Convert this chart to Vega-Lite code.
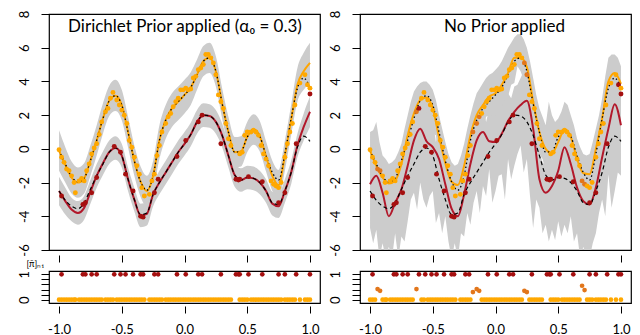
{
"$schema": "https://vega.github.io/schema/vega-lite/v6.json",
"background": "white",
"padding": {"left": 17, "top": 9, "right": 4, "bottom": 0},
"autosize": {"type": "pad"},
"bounds": "flush",
"columns": 2,
"spacing": {"row": 21, "column": 40},
"config": {
  "font": "Lato",
  "view": {"stroke": "#000", "strokeWidth": 1.2},
  "axis": {"labelFont": "Lato", "labelFontSize": 13, "labelColor": "#000", "tickColor": "#000", "tickWidth": 1, "grid": false, "domain": false, "labelOverlap": false}
},
"datasets": {
  "L": [
    {"x":-1.00,"f1":-0.1,"f2":-2.5,"e1":-0.1,"e2":-2.5,"h1":1.1,"l1":-1.3,"h2":-1.65,"l2":-3.35},
    {"x":-0.95,"f1":-0.9,"f2":-3.05,"e1":-0.95,"e2":-3.1,"h1":0.1,"l1":-2.0,"h2":-2.3,"l2":-3.9},
    {"x":-0.90,"f1":-1.65,"f2":-3.4,"e1":-1.7,"e2":-3.6,"h1":-0.75,"l1":-2.65,"h2":-2.9,"l2":-4.3},
    {"x":-0.85,"f1":-1.95,"f2":-3.55,"e1":-2.0,"e2":-3.8,"h1":-1.1,"l1":-2.9,"h2":-3.1,"l2":-4.5},
    {"x":-0.80,"f1":-1.75,"f2":-3.2,"e1":-1.75,"e2":-3.5,"h1":-0.85,"l1":-2.65,"h2":-2.8,"l2":-4.2},
    {"x":-0.75,"f1":-0.7,"f2":-2.4,"e1":-0.7,"e2":-2.55,"h1":0.2,"l1":-1.6,"h2":-1.85,"l2":-3.25},
    {"x":-0.70,"f1":0.5,"f2":-1.6,"e1":0.5,"e2":-1.6,"h1":1.4,"l1":-0.4,"h2":-0.9,"l2":-2.3},
    {"x":-0.65,"f1":1.8,"f2":-0.9,"e1":1.8,"e2":-0.85,"h1":2.7,"l1":0.9,"h2":-0.15,"l2":-1.55},
    {"x":-0.60,"f1":2.85,"f2":-0.2,"e1":2.85,"e2":-0.2,"h1":3.75,"l1":1.95,"h2":0.5,"l2":-0.9},
    {"x":-0.55,"f1":3.15,"f2":0.05,"e1":3.15,"e2":0.05,"h1":4.1,"l1":2.25,"h2":0.75,"l2":-0.65},
    {"x":-0.50,"f1":2.6,"f2":-0.4,"e1":2.6,"e2":-0.4,"h1":3.5,"l1":1.7,"h2":0.3,"l2":-1.1},
    {"x":-0.45,"f1":1.0,"f2":-1.8,"e1":1.0,"e2":-1.8,"h1":1.9,"l1":0.1,"h2":-1.1,"l2":-2.5},
    {"x":-0.40,"f1":-0.7,"f2":-3.0,"e1":-0.7,"e2":-3.0,"h1":0.2,"l1":-1.6,"h2":-2.3,"l2":-3.7},
    {"x":-0.35,"f1":-1.95,"f2":-3.9,"e1":-1.95,"e2":-3.95,"h1":-1.05,"l1":-2.85,"h2":-3.25,"l2":-4.65},
    {"x":-0.30,"f1":-2.45,"f2":-3.8,"e1":-2.5,"e2":-3.85,"h1":-1.6,"l1":-3.4,"h2":-3.15,"l2":-4.55},
    {"x":-0.25,"f1":-1.6,"f2":-2.7,"e1":-1.6,"e2":-2.7,"h1":-0.7,"l1":-2.5,"h2":-2.0,"l2":-3.4},
    {"x":-0.20,"f1":0.5,"f2":-2.0,"e1":0.5,"e2":-2.0,"h1":1.4,"l1":-0.6,"h2":-1.3,"l2":-2.7},
    {"x":-0.15,"f1":1.7,"f2":-1.4,"e1":1.7,"e2":-1.4,"h1":2.6,"l1":0.6,"h2":-0.7,"l2":-2.1},
    {"x":-0.10,"f1":2.4,"f2":-0.8,"e1":2.4,"e2":-0.8,"h1":3.3,"l1":1.3,"h2":-0.1,"l2":-1.5},
    {"x":-0.05,"f1":2.8,"f2":-0.2,"e1":2.8,"e2":-0.2,"h1":3.7,"l1":1.7,"h2":0.5,"l2":-0.9},
    {"x":0.00,"f1":3.2,"f2":0.3,"e1":3.2,"e2":0.3,"h1":4.1,"l1":2.1,"h2":1.0,"l2":-0.4},
    {"x":0.05,"f1":3.65,"f2":0.85,"e1":3.65,"e2":0.85,"h1":4.55,"l1":2.6,"h2":1.55,"l2":0.15},
    {"x":0.10,"f1":4.4,"f2":1.6,"e1":4.4,"e2":1.6,"h1":5.3,"l1":3.5,"h2":2.3,"l2":0.9},
    {"x":0.15,"f1":5.2,"f2":2.0,"e1":5.2,"e2":2.0,"h1":6.1,"l1":4.3,"h2":2.7,"l2":1.3},
    {"x":0.20,"f1":5.4,"f2":1.95,"e1":5.4,"e2":1.95,"h1":6.3,"l1":4.5,"h2":2.65,"l2":1.25},
    {"x":0.25,"f1":4.6,"f2":1.6,"e1":4.6,"e2":1.6,"h1":5.5,"l1":3.7,"h2":2.3,"l2":0.9},
    {"x":0.30,"f1":2.7,"f2":0.8,"e1":2.7,"e2":0.8,"h1":3.6,"l1":1.8,"h2":1.5,"l2":0.1},
    {"x":0.35,"f1":1.0,"f2":-0.4,"e1":1.0,"e2":-0.4,"h1":1.9,"l1":0.1,"h2":0.3,"l2":-1.1},
    {"x":0.40,"f1":-0.2,"f2":-1.55,"e1":-0.2,"e2":-1.55,"h1":0.7,"l1":-1.1,"h2":-0.85,"l2":-2.25},
    {"x":0.45,"f1":-0.15,"f2":-1.85,"e1":-0.15,"e2":-1.85,"h1":0.75,"l1":-1.05,"h2":-1.15,"l2":-2.55},
    {"x":0.50,"f1":0.7,"f2":-1.7,"e1":0.7,"e2":-1.7,"h1":1.6,"l1":-0.2,"h2":-1.0,"l2":-2.4},
    {"x":0.55,"f1":1.15,"f2":-1.75,"e1":1.15,"e2":-1.75,"h1":2.05,"l1":0.25,"h2":-1.05,"l2":-2.45},
    {"x":0.60,"f1":0.75,"f2":-2.0,"e1":0.75,"e2":-2.0,"h1":1.65,"l1":-0.15,"h2":-1.3,"l2":-2.7},
    {"x":0.65,"f1":-0.4,"f2":-2.5,"e1":-0.45,"e2":-2.5,"h1":0.45,"l1":-1.35,"h2":-1.8,"l2":-3.2},
    {"x":0.70,"f1":-1.4,"f2":-3.2,"e1":-1.6,"e2":-3.25,"h1":-0.7,"l1":-2.5,"h2":-2.55,"l2":-3.95},
    {"x":0.75,"f1":-1.85,"f2":-3.3,"e1":-2.15,"e2":-3.4,"h1":-1.25,"l1":-3.05,"h2":-2.7,"l2":-4.1},
    {"x":0.80,"f1":-0.3,"f2":-2.5,"e1":-0.4,"e2":-2.5,"h1":0.5,"l1":-1.3,"h2":-1.8,"l2":-3.2},
    {"x":0.85,"f1":1.8,"f2":-1.4,"e1":1.7,"e2":-1.4,"h1":2.6,"l1":0.8,"h2":-0.7,"l2":-2.1},
    {"x":0.90,"f1":3.6,"f2":0.1,"e1":3.8,"e2":0.2,"h1":4.8,"l1":2.8,"h2":0.9,"l2":-0.5},
    {"x":0.95,"f1":4.2,"f2":0.75,"e1":4.6,"e2":1.3,"h1":5.7,"l1":3.5,"h2":2.1,"l2":0.5},
    {"x":1.00,"f1":3.6,"f2":0.45,"e1":5.1,"e2":2.2,"h1":6.3,"l1":3.9,"h2":3.1,"l2":1.3}
  ],
  "R": [
    {"x":-1.00,"f1":-0.1,"f2":-2.5,"e1":-0.1,"e2":-2.1},
    {"x":-0.95,"f1":-0.9,"f2":-3.05,"e1":-1.0,"e2":-1.6},
    {"x":-0.90,"f1":-1.65,"f2":-3.4,"e1":-1.7,"e2":-2.6},
    {"x":-0.85,"f1":-1.95,"f2":-3.55,"e1":-2.05,"e2":-4.0},
    {"x":-0.80,"f1":-1.75,"f2":-3.2,"e1":-1.9,"e2":-3.2},
    {"x":-0.75,"f1":-0.7,"f2":-2.4,"e1":-0.9,"e2":-2.4},
    {"x":-0.70,"f1":0.5,"f2":-1.6,"e1":0.8,"e2":-1.0},
    {"x":-0.65,"f1":1.8,"f2":-0.9,"e1":2.1,"e2":0.5},
    {"x":-0.60,"f1":2.85,"f2":-0.2,"e1":2.9,"e2":1.2},
    {"x":-0.55,"f1":3.15,"f2":0.05,"e1":3.05,"e2":0.45},
    {"x":-0.50,"f1":2.6,"f2":-0.4,"e1":2.4,"e2":0.1},
    {"x":-0.45,"f1":1.0,"f2":-1.8,"e1":0.7,"e2":-0.6},
    {"x":-0.40,"f1":-0.7,"f2":-3.0,"e1":-0.85,"e2":-2.1},
    {"x":-0.35,"f1":-1.95,"f2":-3.9,"e1":-1.95,"e2":-3.55},
    {"x":-0.30,"f1":-2.45,"f2":-3.8,"e1":-2.15,"e2":-4.0},
    {"x":-0.25,"f1":-1.6,"f2":-2.7,"e1":-1.0,"e2":-2.7},
    {"x":-0.20,"f1":0.5,"f2":-2.0,"e1":0.8,"e2":-0.9},
    {"x":-0.15,"f1":1.7,"f2":-1.4,"e1":2.0,"e2":0.5},
    {"x":-0.10,"f1":2.4,"f2":-0.8,"e1":2.6,"e2":1.0},
    {"x":-0.05,"f1":2.8,"f2":-0.2,"e1":3.1,"e2":0.45},
    {"x":0.00,"f1":3.2,"f2":0.3,"e1":3.3,"e2":0.4},
    {"x":0.05,"f1":3.65,"f2":0.85,"e1":3.8,"e2":0.9},
    {"x":0.10,"f1":4.4,"f2":1.6,"e1":4.5,"e2":1.65},
    {"x":0.15,"f1":5.2,"f2":2.0,"e1":5.4,"e2":2.2},
    {"x":0.20,"f1":5.4,"f2":1.95,"e1":5.4,"e2":2.6},
    {"x":0.25,"f1":4.6,"f2":1.6,"e1":4.85,"e2":2.85},
    {"x":0.30,"f1":2.7,"f2":0.8,"e1":2.8,"e2":1.2},
    {"x":0.35,"f1":1.0,"f2":-0.4,"e1":1.0,"e2":-1.8},
    {"x":0.40,"f1":-0.2,"f2":-1.55,"e1":0.0,"e2":-2.6},
    {"x":0.45,"f1":-0.15,"f2":-1.85,"e1":-0.25,"e2":-2.2},
    {"x":0.50,"f1":0.7,"f2":-1.7,"e1":0.4,"e2":-1.3},
    {"x":0.55,"f1":1.15,"f2":-1.75,"e1":1.15,"e2":0.1},
    {"x":0.60,"f1":0.75,"f2":-2.0,"e1":0.7,"e2":-0.9},
    {"x":0.65,"f1":-0.4,"f2":-2.5,"e1":-0.6,"e2":-2.3},
    {"x":0.70,"f1":-1.4,"f2":-3.2,"e1":-1.45,"e2":-3.1},
    {"x":0.75,"f1":-1.85,"f2":-3.3,"e1":-1.5,"e2":-3.3},
    {"x":0.80,"f1":-0.3,"f2":-2.5,"e1":0.0,"e2":-2.3},
    {"x":0.85,"f1":1.8,"f2":-1.4,"e1":1.8,"e2":-0.5},
    {"x":0.90,"f1":3.6,"f2":0.1,"e1":4.0,"e2":1.2},
    {"x":0.95,"f1":4.2,"f2":0.75,"e1":4.5,"e2":2.65},
    {"x":1.00,"f1":3.6,"f2":0.45,"e1":3.85,"e2":1.4}
  ],
  "RB": [
    {"x":-1.000,"h1":1.0,"l1":-1.6,"h2":-0.6,"l2":-4.7},
    {"x":-0.975,"h1":1.1,"l1":-2.0,"h2":-0.4,"l2":-5.6},
    {"x":-0.950,"h1":1.6,"l1":-2.4,"h2":0.2,"l2":-4.8},
    {"x":-0.925,"h1":0.4,"l1":-2.6,"h2":-0.6,"l2":-6.5},
    {"x":-0.900,"h1":-0.4,"l1":-3.0,"h2":-1.2,"l2":-5.6},
    {"x":-0.875,"h1":-0.6,"l1":-3.2,"h2":-1.8,"l2":-6.5},
    {"x":-0.850,"h1":-0.9,"l1":-3.3,"h2":-2.2,"l2":-5.8},
    {"x":-0.825,"h1":-0.8,"l1":-3.2,"h2":-2.0,"l2":-6.5},
    {"x":-0.800,"h1":-0.6,"l1":-3.0,"h2":-1.5,"l2":-5.0},
    {"x":-0.775,"h1":-0.2,"l1":-2.6,"h2":-1.2,"l2":-6.5},
    {"x":-0.750,"h1":0.3,"l1":-2.2,"h2":-0.6,"l2":-5.2},
    {"x":-0.725,"h1":1.2,"l1":-1.4,"h2":0.0,"l2":-5.5},
    {"x":-0.700,"h1":2.0,"l1":-0.6,"h2":0.7,"l2":-4.3},
    {"x":-0.675,"h1":2.8,"l1":0.0,"h2":1.4,"l2":-3.0},
    {"x":-0.650,"h1":3.4,"l1":0.6,"h2":2.2,"l2":-2.6},
    {"x":-0.625,"h1":3.7,"l1":1.4,"h2":2.6,"l2":-3.6},
    {"x":-0.600,"h1":3.9,"l1":1.5,"h2":2.9,"l2":-2.0},
    {"x":-0.575,"h1":4.0,"l1":2.2,"h2":2.3,"l2":-3.0},
    {"x":-0.550,"h1":4.0,"l1":1.9,"h2":2.2,"l2":-3.5},
    {"x":-0.525,"h1":3.8,"l1":1.2,"h2":1.9,"l2":-2.8},
    {"x":-0.500,"h1":3.5,"l1":0.9,"h2":1.7,"l2":-2.5},
    {"x":-0.475,"h1":2.9,"l1":0.8,"h2":0.4,"l2":-4.4},
    {"x":-0.450,"h1":2.0,"l1":-0.8,"h2":1.0,"l2":-3.8},
    {"x":-0.425,"h1":1.2,"l1":-1.2,"h2":-0.4,"l2":-5.0},
    {"x":-0.400,"h1":0.4,"l1":-2.0,"h2":-0.8,"l2":-4.0},
    {"x":-0.375,"h1":-0.3,"l1":-2.4,"h2":-1.6,"l2":-5.5},
    {"x":-0.350,"h1":-0.8,"l1":-3.2,"h2":-2.0,"l2":-6.5},
    {"x":-0.325,"h1":-1.0,"l1":-3.4,"h2":-2.4,"l2":-5.6},
    {"x":-0.300,"h1":-0.9,"l1":-3.5,"h2":-2.6,"l2":-6.5},
    {"x":-0.275,"h1":-0.4,"l1":-2.8,"h2":-1.8,"l2":-5.0},
    {"x":-0.250,"h1":0.3,"l1":-2.4,"h2":-1.1,"l2":-5.2},
    {"x":-0.225,"h1":1.2,"l1":-1.4,"h2":-0.6,"l2":-3.8},
    {"x":-0.200,"h1":2.0,"l1":-0.4,"h2":0.8,"l2":-4.5},
    {"x":-0.175,"h1":2.7,"l1":0.2,"h2":1.2,"l2":-3.2},
    {"x":-0.150,"h1":3.3,"l1":0.7,"h2":2.0,"l2":-2.5},
    {"x":-0.125,"h1":3.6,"l1":0.9,"h2":2.3,"l2":-3.8},
    {"x":-0.100,"h1":3.9,"l1":1.2,"h2":2.6,"l2":-2.2},
    {"x":-0.075,"h1":4.2,"l1":1.9,"h2":1.6,"l2":-2.8},
    {"x":-0.050,"h1":4.4,"l1":2.0,"h2":2.4,"l2":-1.2},
    {"x":-0.025,"h1":4.5,"l1":1.7,"h2":1.9,"l2":-3.2},
    {"x":0.000,"h1":4.7,"l1":1.8,"h2":2.0,"l2":-2.5},
    {"x":0.025,"h1":4.9,"l1":2.0,"h2":2.5,"l2":-1.6},
    {"x":0.050,"h1":5.2,"l1":2.4,"h2":2.5,"l2":-1.5},
    {"x":0.075,"h1":5.6,"l1":2.6,"h2":2.9,"l2":-3.0},
    {"x":0.100,"h1":6.0,"l1":3.1,"h2":3.3,"l2":-0.6},
    {"x":0.125,"h1":6.3,"l1":3.8,"h2":3.0,"l2":-1.8},
    {"x":0.150,"h1":6.6,"l1":3.9,"h2":3.7,"l2":-1.0},
    {"x":0.175,"h1":6.8,"l1":4.9,"h2":3.8,"l2":-0.3},
    {"x":0.200,"h1":6.8,"l1":4.6,"h2":4.2,"l2":0.2},
    {"x":0.225,"h1":6.5,"l1":4.1,"h2":4.6,"l2":-1.4},
    {"x":0.250,"h1":6.0,"l1":3.4,"h2":4.4,"l2":-0.6},
    {"x":0.275,"h1":5.2,"l1":2.6,"h2":3.8,"l2":-2.8},
    {"x":0.300,"h1":4.2,"l1":1.3,"h2":2.8,"l2":-4.7},
    {"x":0.325,"h1":3.2,"l1":0.6,"h2":1.2,"l2":-3.0},
    {"x":0.350,"h1":2.4,"l1":-0.3,"h2":-0.2,"l2":-3.5},
    {"x":0.375,"h1":1.9,"l1":-0.6,"h2":-0.8,"l2":-5.0},
    {"x":0.400,"h1":1.4,"l1":-1.3,"h2":-1.0,"l2":-4.5},
    {"x":0.425,"h1":2.8,"l1":-1.2,"h2":-0.9,"l2":-5.5},
    {"x":0.450,"h1":2.0,"l1":-1.6,"h2":-0.6,"l2":-4.8},
    {"x":0.475,"h1":1.6,"l1":-1.2,"h2":-0.3,"l2":-5.4},
    {"x":0.500,"h1":1.8,"l1":-1.0,"h2":0.3,"l2":-4.3},
    {"x":0.525,"h1":2.2,"l1":-0.4,"h2":0.9,"l2":-5.2},
    {"x":0.550,"h1":2.8,"l1":-0.2,"h2":1.7,"l2":-4.5},
    {"x":0.575,"h1":2.6,"l1":0.2,"h2":1.0,"l2":-5.0},
    {"x":0.600,"h1":2.0,"l1":-0.6,"h2":0.7,"l2":-4.0},
    {"x":0.625,"h1":1.4,"l1":-1.2,"h2":-0.1,"l2":-5.5},
    {"x":0.650,"h1":0.6,"l1":-1.8,"h2":-0.7,"l2":-5.0},
    {"x":0.675,"h1":0.1,"l1":-2.4,"h2":-1.2,"l2":-6.5},
    {"x":0.700,"h1":-0.3,"l1":-2.8,"h2":-1.5,"l2":-5.8},
    {"x":0.725,"h1":-0.4,"l1":-2.9,"h2":-1.8,"l2":-6.5},
    {"x":0.750,"h1":-0.3,"l1":-2.8,"h2":-1.7,"l2":-6.5},
    {"x":0.775,"h1":0.4,"l1":-2.2,"h2":-1.3,"l2":-5.6},
    {"x":0.800,"h1":1.2,"l1":-1.3,"h2":-0.7,"l2":-5.0},
    {"x":0.825,"h1":2.0,"l1":-0.5,"h2":0.2,"l2":-3.8},
    {"x":0.850,"h1":3.0,"l1":0.4,"h2":1.1,"l2":-3.0},
    {"x":0.875,"h1":4.3,"l1":1.4,"h2":1.9,"l2":-4.0},
    {"x":0.900,"h1":5.4,"l1":2.6,"h2":2.8,"l2":-1.5},
    {"x":0.925,"h1":5.6,"l1":3.0,"h2":3.4,"l2":-3.5},
    {"x":0.950,"h1":5.6,"l1":3.2,"h2":4.2,"l2":-2.5},
    {"x":0.975,"h1":5.4,"l1":2.9,"h2":3.6,"l2":-1.4},
    {"x":1.000,"h1":4.9,"l1":2.5,"h2":3.0,"l2":-1.6}
  ],
  "obs": [
    {"x":-1.00,"y":-0.05,"g":"o","gR":"o","pL":0,"pR":0},
    {"x":-0.98,"y":-0.5,"g":"o","gR":"o","pL":0,"pR":0},
    {"x":-0.96,"y":-0.8,"g":"o","gR":"o","pL":0,"pR":0},
    {"x":-0.94,"y":-1.2,"g":"o","gR":"d","pL":0,"pR":0.42},
    {"x":-0.92,"y":-1.3,"g":"o","gR":"d","pL":0,"pR":0.35},
    {"x":-0.90,"y":-1.6,"g":"o","gR":"o","pL":0,"pR":0},
    {"x":-0.88,"y":-2.0,"g":"o","gR":"o","pL":0,"pR":0},
    {"x":-0.87,"y":-2.6,"g":"o","gR":"o","pL":0,"pR":0},
    {"x":-0.84,"y":-1.9,"g":"o","gR":"o","pL":0,"pR":0},
    {"x":-0.82,"y":-1.75,"g":"o","gR":"o","pL":0,"pR":0},
    {"x":-0.80,"y":-1.9,"g":"o","gR":"o","pL":0,"pR":0},
    {"x":-0.78,"y":-1.3,"g":"o","gR":"o","pL":0,"pR":0},
    {"x":-0.76,"y":-0.9,"g":"o","gR":"o","pL":0,"pR":0},
    {"x":-0.74,"y":-0.3,"g":"o","gR":"o","pL":0,"pR":0},
    {"x":-0.72,"y":0.05,"g":"o","gR":"o","pL":0,"pR":0},
    {"x":-0.70,"y":0.3,"g":"o","gR":"o","pL":0,"pR":0},
    {"x":-0.68,"y":0.85,"g":"o","gR":"o","pL":0,"pR":0},
    {"x":-0.66,"y":1.6,"g":"o","gR":"o","pL":0,"pR":0},
    {"x":-0.63,"y":2.2,"g":"o","gR":"d","pL":0,"pR":0.42},
    {"x":-0.61,"y":2.4,"g":"o","gR":"r","pL":0,"pR":1},
    {"x":-0.59,"y":3.0,"g":"o","gR":"o","pL":0,"pR":0},
    {"x":-0.57,"y":3.35,"g":"o","gR":"o","pL":0,"pR":0},
    {"x":-0.54,"y":2.9,"g":"o","gR":"o","pL":0,"pR":0},
    {"x":-0.52,"y":2.6,"g":"o","gR":"o","pL":0,"pR":0},
    {"x":-0.50,"y":2.3,"g":"o","gR":"o","pL":0,"pR":0},
    {"x":-0.48,"y":2.0,"g":"o","gR":"o","pL":0,"pR":0},
    {"x":-0.46,"y":1.5,"g":"o","gR":"o","pL":0,"pR":0},
    {"x":-0.44,"y":0.5,"g":"o","gR":"o","pL":0,"pR":0},
    {"x":-0.42,"y":0.1,"g":"o","gR":"o","pL":0,"pR":0},
    {"x":-0.40,"y":-0.5,"g":"o","gR":"o","pL":0,"pR":0},
    {"x":-0.38,"y":-1.0,"g":"o","gR":"o","pL":0,"pR":0},
    {"x":-0.36,"y":-1.5,"g":"o","gR":"o","pL":0,"pR":0},
    {"x":-0.34,"y":-2.3,"g":"o","gR":"o","pL":0,"pR":0},
    {"x":-0.32,"y":-2.8,"g":"o","gR":"o","pL":0,"pR":0},
    {"x":-0.28,"y":-2.7,"g":"o","gR":"o","pL":0,"pR":0},
    {"x":-0.26,"y":-1.9,"g":"o","gR":"o","pL":0,"pR":0},
    {"x":-0.24,"y":-1.5,"g":"o","gR":"o","pL":0,"pR":0},
    {"x":-0.22,"y":-0.4,"g":"o","gR":"o","pL":0,"pR":0},
    {"x":-0.20,"y":0.2,"g":"o","gR":"o","pL":0,"pR":0},
    {"x":-0.18,"y":1.0,"g":"o","gR":"d","pL":0,"pR":0.3},
    {"x":-0.15,"y":1.5,"g":"o","gR":"d","pL":0,"pR":0.42},
    {"x":-0.13,"y":1.9,"g":"o","gR":"d","pL":0,"pR":0.35},
    {"x":-0.11,"y":2.1,"g":"o","gR":"o","pL":0,"pR":0},
    {"x":-0.09,"y":2.5,"g":"o","gR":"o","pL":0,"pR":0},
    {"x":-0.07,"y":2.8,"g":"o","gR":"o","pL":0,"pR":0},
    {"x":-0.05,"y":3.0,"g":"o","gR":"o","pL":0,"pR":0},
    {"x":-0.03,"y":3.5,"g":"o","gR":"o","pL":0,"pR":0},
    {"x":-0.01,"y":3.5,"g":"o","gR":"o","pL":0,"pR":0},
    {"x":0.01,"y":3.6,"g":"o","gR":"o","pL":0,"pR":0},
    {"x":0.03,"y":3.5,"g":"o","gR":"o","pL":0,"pR":0},
    {"x":0.05,"y":3.55,"g":"o","gR":"o","pL":0,"pR":0},
    {"x":0.07,"y":4.2,"g":"o","gR":"o","pL":0,"pR":0},
    {"x":0.09,"y":4.3,"g":"o","gR":"o","pL":0,"pR":0},
    {"x":0.11,"y":4.7,"g":"o","gR":"o","pL":0,"pR":0},
    {"x":0.13,"y":4.8,"g":"o","gR":"o","pL":0,"pR":0},
    {"x":0.15,"y":5.0,"g":"o","gR":"o","pL":0,"pR":0},
    {"x":0.17,"y":5.6,"g":"o","gR":"o","pL":0,"pR":0},
    {"x":0.19,"y":5.6,"g":"o","gR":"o","pL":0,"pR":0},
    {"x":0.21,"y":5.4,"g":"o","gR":"o","pL":0,"pR":0},
    {"x":0.23,"y":5.1,"g":"o","gR":"d","pL":0,"pR":0.35},
    {"x":0.25,"y":4.4,"g":"o","gR":"d","pL":0,"pR":0.3},
    {"x":0.27,"y":3.2,"g":"o","gR":"o","pL":0,"pR":0},
    {"x":0.29,"y":2.8,"g":"o","gR":"o","pL":0,"pR":0},
    {"x":0.31,"y":2.4,"g":"o","gR":"o","pL":0,"pR":0},
    {"x":0.33,"y":1.5,"g":"o","gR":"o","pL":0,"pR":0},
    {"x":0.35,"y":0.6,"g":"o","gR":"o","pL":0,"pR":0},
    {"x":0.37,"y":0.2,"g":"o","gR":"o","pL":0,"pR":0},
    {"x":0.44,"y":-0.3,"g":"o","gR":"o","pL":0,"pR":0},
    {"x":0.46,"y":-0.2,"g":"o","gR":"o","pL":0,"pR":0},
    {"x":0.48,"y":0.8,"g":"o","gR":"o","pL":0,"pR":0},
    {"x":0.50,"y":1.0,"g":"o","gR":"o","pL":0,"pR":0},
    {"x":0.53,"y":1.0,"g":"o","gR":"o","pL":0,"pR":0},
    {"x":0.55,"y":1.1,"g":"o","gR":"o","pL":0,"pR":0},
    {"x":0.57,"y":1.0,"g":"o","gR":"o","pL":0,"pR":0},
    {"x":0.59,"y":0.8,"g":"o","gR":"o","pL":0,"pR":0},
    {"x":0.61,"y":0.2,"g":"o","gR":"o","pL":0,"pR":0},
    {"x":0.63,"y":-0.3,"g":"o","gR":"o","pL":0,"pR":0},
    {"x":0.65,"y":-0.6,"g":"o","gR":"o","pL":0,"pR":0},
    {"x":0.67,"y":-1.0,"g":"o","gR":"o","pL":0,"pR":0},
    {"x":0.69,"y":-1.9,"g":"o","gR":"d","pL":0,"pR":0.55},
    {"x":0.71,"y":-2.1,"g":"o","gR":"d","pL":0,"pR":0.38},
    {"x":0.73,"y":-2.2,"g":"o","gR":"o","pL":0,"pR":0},
    {"x":0.75,"y":-2.3,"g":"o","gR":"o","pL":0,"pR":0},
    {"x":0.77,"y":-2.0,"g":"o","gR":"o","pL":0,"pR":0},
    {"x":0.80,"y":-0.5,"g":"o","gR":"o","pL":0,"pR":0},
    {"x":0.82,"y":0.3,"g":"o","gR":"o","pL":0,"pR":0},
    {"x":0.84,"y":1.0,"g":"o","gR":"o","pL":0,"pR":0},
    {"x":0.86,"y":1.5,"g":"o","gR":"o","pL":0,"pR":0},
    {"x":0.88,"y":2.6,"g":"o","gR":"o","pL":0,"pR":0},
    {"x":0.92,"y":3.9,"g":"o","gR":"o","pL":0,"pR":0},
    {"x":0.96,"y":4.4,"g":"o","gR":"o","pL":0,"pR":0},
    {"x":0.98,"y":3.8,"g":"o","gR":"r","pL":0,"pR":1},
    {"x":1.00,"y":3.6,"g":"o","gR":"o","pL":0,"pR":0},
    {"x":-0.98,"y":-2.8,"g":"r","gR":"r","pL":1,"pR":1},
    {"x":-0.81,"y":-3.3,"g":"r","gR":"r","pL":1,"pR":1},
    {"x":-0.79,"y":-3.2,"g":"r","gR":"r","pL":1,"pR":1},
    {"x":-0.74,"y":-2.6,"g":"r","gR":"r","pL":1,"pR":1},
    {"x":-0.70,"y":-1.7,"g":"r","gR":"r","pL":1,"pR":1},
    {"x":-0.56,"y":0.15,"g":"r","gR":"r","pL":1,"pR":1},
    {"x":-0.51,"y":-0.2,"g":"r","gR":"r","pL":1,"pR":1},
    {"x":-0.47,"y":-1.5,"g":"r","gR":"r","pL":1,"pR":1},
    {"x":-0.41,"y":-2.5,"g":"r","gR":"r","pL":1,"pR":1},
    {"x":-0.35,"y":-4.0,"g":"r","gR":"r","pL":1,"pR":1},
    {"x":-0.33,"y":-4.05,"g":"r","gR":"r","pL":1,"pR":1},
    {"x":-0.24,"y":-2.6,"g":"r","gR":"r","pL":1,"pR":1},
    {"x":-0.21,"y":-1.8,"g":"r","gR":"r","pL":1,"pR":1},
    {"x":-0.06,"y":-0.45,"g":"r","gR":"r","pL":1,"pR":1},
    {"x":0.01,"y":0.5,"g":"r","gR":"r","pL":1,"pR":1},
    {"x":0.11,"y":1.6,"g":"r","gR":"r","pL":1,"pR":1},
    {"x":0.14,"y":2.0,"g":"r","gR":"r","pL":1,"pR":1},
    {"x":0.29,"y":0.3,"g":"r","gR":"r","pL":1,"pR":1},
    {"x":0.41,"y":-1.8,"g":"r","gR":"r","pL":1,"pR":1},
    {"x":0.43,"y":-1.85,"g":"r","gR":"r","pL":1,"pR":1},
    {"x":0.44,"y":-1.8,"g":"r","gR":"r","pL":1,"pR":1},
    {"x":0.51,"y":-1.65,"g":"r","gR":"r","pL":1,"pR":1},
    {"x":0.62,"y":-1.95,"g":"r","gR":"r","pL":1,"pR":1},
    {"x":0.75,"y":-3.2,"g":"r","gR":"r","pL":1,"pR":1},
    {"x":0.80,"y":-2.6,"g":"r","gR":"r","pL":1,"pR":1},
    {"x":0.89,"y":0.3,"g":"r","gR":"r","pL":1,"pR":1},
    {"x":1.00,"y":3.25,"g":"r","gR":"r","pL":1,"pR":1}
  ]
},
"concat": [
  {
    "width": 271, "height": 236,
    "data": {"name": "L"},
    "encoding": {
      "x": {"field": "x", "type": "quantitative", "title": null, "scale": {"domain": [-1.08, 1.08], "nice": false, "zero": false}, "axis": {"values": [-1, -0.5, 0, 0.5, 1], "labels": false, "offset": 5, "tickSize": 7}},
      "y": {"field": "y", "type": "quantitative", "scale": {"domain": [-6, 8], "nice": false, "zero": false},
        "axis": {"values": [-6, -4, -2, 0, 2, 4, 6, 8], "labelExpr": "replace(datum.label, '−', '-')", "labelAngle": 270, "labelAlign": "center", "labelBaseline": "bottom", "labelPadding": 10, "tickSize": 8, "labelOverlap": false, "zindex": 1,
          "title": "Dirichlet Prior applied (α₀ = 0.3)", "titleAngle": 0, "titleX": 135.5, "titleY": 12, "titleAlign": "center", "titleBaseline": "middle", "titleFontSize": 17, "titleFontWeight": "normal", "titleFont": "Lato", "titleColor": "#000"}}
    },
    "layer": [
      {"transform": [{"fold": ["l1", "l2"], "as": ["s", "y"]}, {"filter": "datum.s == 'l1'"}],
       "mark": {"type": "area", "color": "#cccccc", "clip": true, "interpolate": "monotone"},
       "encoding": {"y2": {"field": "h1"}}},
      {"transform": [{"fold": ["l1", "l2"], "as": ["s", "y"]}, {"filter": "datum.s == 'l2'"}],
       "mark": {"type": "area", "color": "#cccccc", "clip": true, "interpolate": "monotone"},
       "encoding": {"y2": {"field": "h2"}}},
      {"transform": [{"fold": ["e1", "e2", "f1", "f2"], "as": ["s", "y"]}, {"filter": "datum.s == 'e1'"}],
       "mark": {"type": "line", "color": "#FFA500", "strokeWidth": 2, "clip": true, "interpolate": "monotone"}},
      {"transform": [{"fold": ["e1", "e2", "f1", "f2"], "as": ["s", "y"]}, {"filter": "datum.s == 'e2'"}],
       "mark": {"type": "line", "color": "#B2182B", "strokeWidth": 2, "clip": true, "interpolate": "monotone"}},
      {"transform": [{"fold": ["e1", "e2", "f1", "f2"], "as": ["s", "y"]}, {"filter": "datum.s == 'f1'"}],
       "mark": {"type": "line", "color": "#000000", "strokeWidth": 1.3, "strokeDash": [1.5, 2.5], "clip": true, "interpolate": "monotone"}},
      {"transform": [{"fold": ["e1", "e2", "f1", "f2"], "as": ["s", "y"]}, {"filter": "datum.s == 'f2'"}],
       "mark": {"type": "line", "color": "#000000", "strokeWidth": 1.2, "strokeDash": [4, 3], "clip": true, "interpolate": "monotone"}},
      {"data": {"name": "obs"},
       "mark": {"type": "circle", "size": 24, "opacity": 1, "clip": true},
       "encoding": {"color": {"field": "g", "type": "nominal", "legend": null, "scale": {"domain": ["o", "r", "d"], "range": ["#FFA800", "#A50F0F", "#E2761B"]}}}}
    ]
  },
  {
    "width": 271, "height": 236,
    "data": {"name": "R"},
    "encoding": {
      "x": {"field": "x", "type": "quantitative", "title": null, "scale": {"domain": [-1.08, 1.08], "nice": false, "zero": false}, "axis": {"values": [-1, -0.5, 0, 0.5, 1], "labels": false, "offset": 5, "tickSize": 7}},
      "y": {"field": "y", "type": "quantitative", "scale": {"domain": [-6, 8], "nice": false, "zero": false},
        "axis": {"values": [-6, -4, -2, 0, 2, 4, 6, 8], "labelExpr": "replace(datum.label, '−', '-')", "labelAngle": 270, "labelAlign": "center", "labelBaseline": "bottom", "labelPadding": 10, "tickSize": 8, "labelOverlap": false, "zindex": 1,
          "title": "No Prior applied", "titleAngle": 0, "titleX": 144, "titleY": 12, "titleAlign": "center", "titleBaseline": "middle", "titleFontSize": 17, "titleFontWeight": "normal", "titleFont": "Lato", "titleColor": "#000"}}
    },
    "layer": [
      {"data": {"name": "RB"},
       "transform": [{"fold": ["l1", "l2"], "as": ["s", "y"]}, {"filter": "datum.s == 'l1'"}],
       "mark": {"type": "area", "color": "#cccccc", "clip": true},
       "encoding": {"y2": {"field": "h1"}}},
      {"data": {"name": "RB"},
       "transform": [{"fold": ["l1", "l2"], "as": ["s", "y"]}, {"filter": "datum.s == 'l2'"}],
       "mark": {"type": "area", "color": "#cccccc", "clip": true},
       "encoding": {"y2": {"field": "h2"}}},
      {"transform": [{"fold": ["e1", "e2", "f1", "f2"], "as": ["s", "y"]}, {"filter": "datum.s == 'e1'"}],
       "mark": {"type": "line", "color": "#FFA500", "strokeWidth": 2, "clip": true, "interpolate": "monotone"}},
      {"transform": [{"fold": ["e1", "e2", "f1", "f2"], "as": ["s", "y"]}, {"filter": "datum.s == 'e2'"}],
       "mark": {"type": "line", "color": "#B2182B", "strokeWidth": 2, "clip": true, "interpolate": "monotone"}},
      {"transform": [{"fold": ["e1", "e2", "f1", "f2"], "as": ["s", "y"]}, {"filter": "datum.s == 'f1'"}],
       "mark": {"type": "line", "color": "#000000", "strokeWidth": 1.3, "strokeDash": [1.5, 2.5], "clip": true, "interpolate": "monotone"}},
      {"transform": [{"fold": ["e1", "e2", "f1", "f2"], "as": ["s", "y"]}, {"filter": "datum.s == 'f2'"}],
       "mark": {"type": "line", "color": "#000000", "strokeWidth": 1.2, "strokeDash": [4, 3], "clip": true, "interpolate": "monotone"}},
      {"data": {"name": "obs"},
       "mark": {"type": "circle", "size": 24, "opacity": 1, "clip": true},
       "encoding": {"color": {"field": "gR", "type": "nominal", "legend": null, "scale": {"domain": ["o", "r", "d"], "range": ["#FFA800", "#A50F0F", "#E2761B"]}}}}
    ]
  },
  {
    "width": 271, "height": 32,
    "data": {"name": "obs"},
    "mark": {"type": "circle", "size": 22, "opacity": 1},
    "encoding": {
      "x": {"field": "x", "type": "quantitative", "title": null, "scale": {"domain": [-1.08, 1.08], "nice": false, "zero": false}, "axis": {"values": [-1, -0.5, 0, 0.5, 1], "labelExpr": "replace(format(datum.value, '.1f'), '−', '-')", "offset": 3, "tickSize": 7, "labelPadding": 10}},
      "y": {"field": "pL", "type": "quantitative", "scale": {"domain": [-0.13, 1.13], "nice": false, "zero": false},
        "axis": {"values": [0, 0.2, 0.4, 0.6, 0.8, 1], "labelExpr": "datum.value == 0 ? '0' : (datum.value == 1 ? '1' : '')", "labelAngle": 270, "labelAlign": "center", "labelBaseline": "bottom", "labelPadding": 10, "tickSize": 8, "labelOverlap": false,
          "title": "[π̃]ₙ₁", "titleAngle": 0, "titleX": -23, "titleY": -8, "titleAlign": "left", "titleBaseline": "middle", "titleFontSize": 9, "titleFontWeight": "normal", "titleFont": "Lato"}},
      "color": {"field": "g", "type": "nominal", "legend": null, "scale": {"domain": ["o", "r", "d"], "range": ["#FFA800", "#A50F0F", "#E2761B"]}}
    }
  },
  {
    "width": 271, "height": 32,
    "data": {"name": "obs"},
    "mark": {"type": "circle", "size": 22, "opacity": 1},
    "encoding": {
      "x": {"field": "x", "type": "quantitative", "title": null, "scale": {"domain": [-1.08, 1.08], "nice": false, "zero": false}, "axis": {"values": [-1, -0.5, 0, 0.5, 1], "labelExpr": "replace(format(datum.value, '.1f'), '−', '-')", "offset": 3, "tickSize": 7, "labelPadding": 10}},
      "y": {"field": "pR", "type": "quantitative", "title": null, "scale": {"domain": [-0.13, 1.13], "nice": false, "zero": false},
        "axis": {"values": [0, 0.2, 0.4, 0.6, 0.8, 1], "labelExpr": "datum.value == 0 ? '0' : (datum.value == 1 ? '1' : '')", "labelAngle": 270, "labelAlign": "center", "labelBaseline": "bottom", "labelPadding": 10, "tickSize": 8, "labelOverlap": false}},
      "color": {"field": "gR", "type": "nominal", "legend": null, "scale": {"domain": ["o", "r", "d"], "range": ["#FFA800", "#A50F0F", "#E2761B"]}}
    }
  }
]
}
